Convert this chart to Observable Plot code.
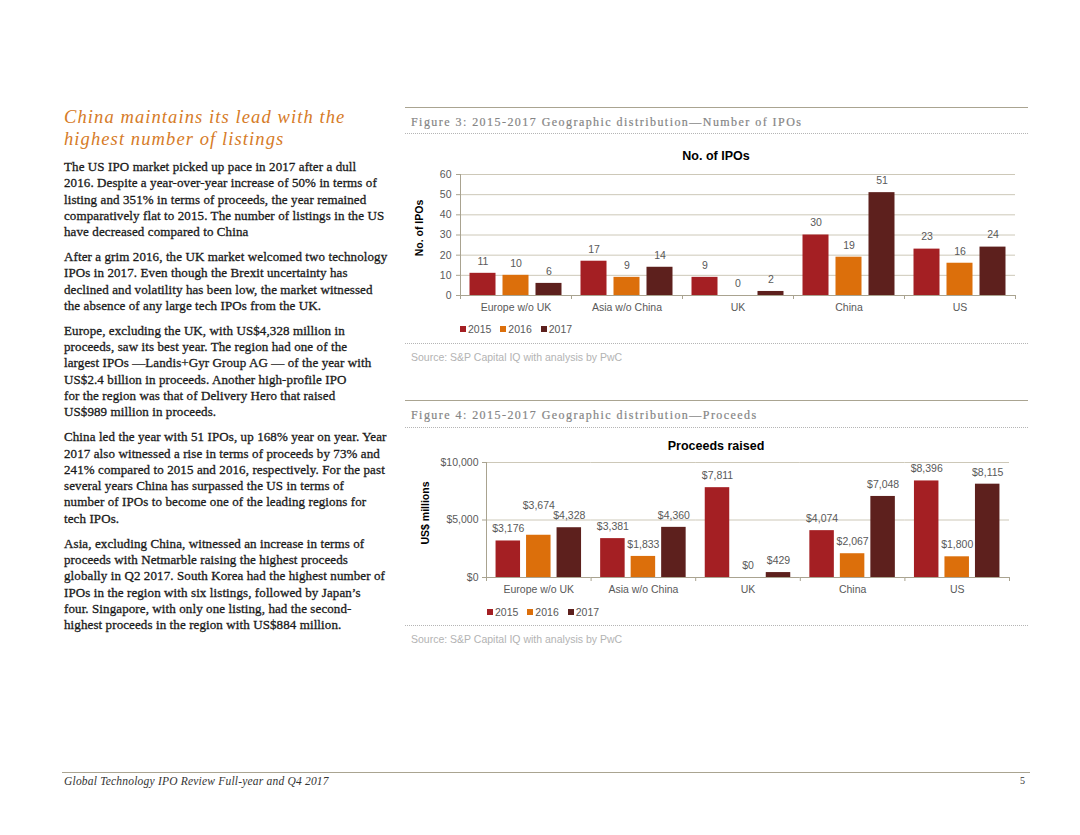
<!DOCTYPE html>
<html><head><meta charset="utf-8">
<script src="https://cdn.jsdelivr.net/npm/d3@7"></script>
<script src="https://cdn.jsdelivr.net/npm/@observablehq/plot@0.6"></script>
<style>
html,body{margin:0;padding:0;background:#fff;}
#page{position:relative;width:1080px;height:835px;overflow:hidden;background:#fff;}
.abs{position:absolute;}
.heading{left:64px;top:106px;font-family:"Liberation Serif",serif;font-style:italic;font-size:18.5px;line-height:22px;letter-spacing:1.1px;color:#d67b27;white-space:nowrap;}
.body{left:64px;top:159px;width:340px;font-family:"Liberation Serif",serif;font-size:13px;line-height:16.3px;letter-spacing:0.1px;color:#1a1a1a;-webkit-text-stroke:0.3px #1a1a1a;white-space:nowrap;}
.body p{margin:0 0 8.6px 0;}
.hr{left:405px;width:623px;height:0;border-top:1.2px solid #aaa491;}
.dot{left:405px;width:623px;height:0;border-top:1px dotted #b5b5b5;}
.cap{left:411px;font-family:"Liberation Serif",serif;font-size:12px;line-height:14px;letter-spacing:1.45px;color:#858585;-webkit-text-stroke:0.2px #858585;white-space:nowrap;}
.src{left:411px;font-family:"Liberation Sans",Arial,sans-serif;font-size:10.5px;line-height:14px;color:#b3b3b3;white-space:nowrap;}
.ctitle{font-family:"Liberation Sans",Arial,sans-serif;font-weight:bold;font-size:12.5px;line-height:16px;color:#000;width:300px;text-align:center;left:566px;}
.ytitle{font-family:"Liberation Sans",Arial,sans-serif;font-weight:bold;font-size:10.5px;line-height:12px;color:#000;width:120px;text-align:center;transform:rotate(-90deg);white-space:nowrap;}
.legend{font-family:"Liberation Sans",Arial,sans-serif;font-size:10.5px;line-height:14px;color:#595959;display:flex;align-items:center;white-space:nowrap;}
.legend .sw{display:inline-block;width:6px;height:6px;margin-right:2px;}
.legend .it{display:inline-flex;align-items:center;margin-right:9px;}
.footline{left:62px;width:968px;height:0;border-top:1.2px solid #aaa491;top:772px;}
.footer{top:774px;font-family:"Liberation Serif",serif;font-style:italic;font-size:11.5px;letter-spacing:0.2px;line-height:14px;color:#333;white-space:nowrap;}
</style>
</head>
<body>
<div id="page">
  <div class="abs heading">China maintains its lead with the<br>highest number of listings</div>
  <div class="abs body">
    <p>The US IPO market picked up pace in 2017 after a dull<br>2016. Despite a year-over-year increase of 50% in terms of<br>listing and 351% in terms of proceeds, the year remained<br>comparatively flat to 2015. The number of listings in the US<br>have decreased compared to China</p>
    <p>After a grim 2016, the UK market welcomed two technology<br>IPOs in 2017. Even though the Brexit uncertainty has<br>declined and volatility has been low, the market witnessed<br>the absence of any large tech IPOs from the UK.</p>
    <p>Europe, excluding the UK, with US$4,328 million in<br>proceeds, saw its best year. The region had one of the<br>largest IPOs —Landis+Gyr Group AG — of the year with<br>US$2.4 billion in proceeds. Another high-profile IPO<br>for the region was that of Delivery Hero that raised<br>US$989 million in proceeds.</p>
    <p>China led the year with 51 IPOs, up 168% year on year. Year<br>2017 also witnessed a rise in terms of proceeds by 73% and<br>241% compared to 2015 and 2016, respectively. For the past<br>several years China has surpassed the US in terms of<br>number of IPOs to become one of the leading regions for<br>tech IPOs.</p>
    <p>Asia, excluding China, witnessed an increase in terms of<br>proceeds with Netmarble raising the highest proceeds<br>globally in Q2 2017. South Korea had the highest number of<br>IPOs in the region with six listings, followed by Japan’s<br>four. Singapore, with only one listing, had the second-<br>highest proceeds in the region with US$884 million.</p>
  </div>

  <div class="abs hr" style="top:107px"></div>
  <div class="abs cap" style="top:115px">Figure 3: 2015-2017 Geographic distribution—Number of IPOs</div>
  <div class="abs dot" style="top:133px"></div>
  <div class="abs ctitle" style="top:148px">No. of IPOs</div>
  <div class="abs ytitle" style="left:359px;top:222px">No. of IPOs</div>
  <div class="abs" id="chart1" style="left:405px;top:165px"></div>
  <div class="abs legend" id="legend1" style="left:460px;top:322px"></div>
  <div class="abs dot" style="top:343px"></div>
  <div class="abs src" style="top:350px">Source: S&amp;P Capital IQ with analysis by PwC</div>

  <div class="abs hr" style="top:400px"></div>
  <div class="abs cap" style="top:408px">Figure 4: 2015-2017 Geographic distribution—Proceeds</div>
  <div class="abs dot" style="top:427px"></div>
  <div class="abs ctitle" style="top:438px">Proceeds raised</div>
  <div class="abs ytitle" style="left:365px;top:507px">US$ millions</div>
  <div class="abs" id="chart2" style="left:405px;top:455px"></div>
  <div class="abs legend" id="legend2" style="left:487px;top:605px"></div>
  <div class="abs dot" style="top:625px"></div>
  <div class="abs src" style="top:632px">Source: S&amp;P Capital IQ with analysis by PwC</div>

  <div class="abs footline"></div>
  <div class="abs footer" style="left:64px">Global Technology IPO Review Full-year and Q4 2017</div>
  <div class="abs footer" style="left:1020px;font-style:normal;font-size:10px">5</div>
</div>
<script>
const regions = ["Europe w/o UK", "Asia w/o China", "UK", "China", "US"];
const years = ["2015", "2016", "2017"];
const colors = ["#a41f23", "#dc6f0b", "#5d201d"];

const ipos2015 = [11, 17, 9, 30, 23];
const ipos2016 = [10, 9, 0, 19, 16];
const ipos2017 = [6, 14, 2, 51, 24];
const ipoTicks = [0, 10, 20, 30, 40, 50, 60];

const proceeds2015 = [3176, 3381, 7811, 4074, 8396];
const proceeds2016 = [3674, 1833, 0, 2067, 1800];
const proceeds2017 = [4328, 4360, 429, 7048, 8115];
const proceedsTicks = [0, 5000, 10000];

function buildRows(a, b, c) {
  const series = [a, b, c];
  const out = [];
  regions.forEach((r, i) => years.forEach((y, j) => out.push({region: r, year: y, value: series[j][i]})));
  return out;
}

function groupedChart(o) {
  const plotW = o.width - o.marginLeft - o.marginRight;
  const plotH = o.height - o.marginTop - o.marginBottom;
  const max = o.ticks[o.ticks.length - 1];
  const fw = plotW / regions.length;
  const step = fw / (years.length - o.pi + 2 * o.po);
  const edge = o.po * step + (1 - o.pi) * step / 2;
  const tickLen = 4 * max / plotH;
  const pxPerUnit = plotH / max;
  const charW = 5.84;
  // Stagger a middle label upward when it would collide with a neighbour.
  const labels = o.data.map(d => ({...d, text: o.labelFormat(d.value), raised: false}));
  regions.forEach(r => {
    const g = labels.filter(d => d.region === r);
    const mid = g[1];
    const collides = [g[0], g[2]].some(n =>
      (n.text.length + mid.text.length) * charW / 2 > step &&
      Math.abs(n.value - mid.value) * pxPerUnit < 12);
    if (collides) mid.raised = true;
  });
  const axisColor = "#a9a390";
  return Plot.plot({
    width: o.width, height: o.height,
    marginLeft: o.marginLeft, marginRight: o.marginRight,
    marginTop: o.marginTop, marginBottom: o.marginBottom,
    style: {fontFamily: "'Liberation Sans', Arial, sans-serif", fontSize: "10.5px", color: "#595959", background: "transparent", overflow: "visible"},
    fx: {domain: regions, padding: 0, round: false, label: null},
    x: {domain: years, paddingInner: o.pi, paddingOuter: o.po, round: false, axis: null},
    y: {domain: [0, max], axis: null},
    color: {domain: years, range: colors},
    marks: [
      Plot.ruleY(o.ticks.filter(t => t > 0), {stroke: "#cdc8b8", strokeWidth: 1}),
      Plot.barY(o.data, {fx: "region", x: "year", y: "value", fill: "year"}),
      Plot.ruleY([0], {stroke: axisColor}),
      Plot.ruleX([regions[0]], {fx: d => d, x: () => years[0], dx: -edge, y1: 0, y2: max, stroke: axisColor}),
      Plot.ruleX(regions, {fx: d => d, x: () => years[0], dx: -edge, y1: 0, y2: -tickLen, stroke: axisColor}),
      Plot.ruleX([regions[regions.length - 1]], {fx: d => d, x: () => years[years.length - 1], dx: edge, y1: 0, y2: -tickLen, stroke: axisColor}),
      Plot.axisY({ticks: o.ticks, tickSize: 4, tickPadding: o.tickPadding, tickFormat: o.tickFormat, stroke: axisColor, fill: "#595959", label: null}),
      Plot.axisFx({anchor: "bottom", tickSize: 0, tickPadding: 8, label: null, fill: "#595959"}),
      Plot.text(labels.filter(d => !d.raised), {fx: "region", x: "year", y: "value", text: "text", dy: -12, fill: "#595959"}),
      Plot.text(labels.filter(d => d.raised), {fx: "region", x: "year", y: "value", text: "text", dy: -30, fill: "#595959"})
    ]
  });
}

const money = v => "$" + d3.format(",")(v);

document.getElementById("chart1").appendChild(groupedChart({
  data: buildRows(ipos2015, ipos2016, ipos2017),
  ticks: ipoTicks, tickFormat: d => String(d), labelFormat: v => String(v),
  width: 625, height: 155, marginLeft: 55, marginRight: 15, marginTop: 9, marginBottom: 25,
  pi: 0.212, po: 0.288, tickPadding: 5
}));

document.getElementById("chart2").appendChild(groupedChart({
  data: buildRows(proceeds2015, proceeds2016, proceeds2017),
  ticks: proceedsTicks, tickFormat: money, labelFormat: money,
  width: 625, height: 147, marginLeft: 81, marginRight: 21, marginTop: 7, marginBottom: 25,
  pi: 0.197, po: 0.313, tickPadding: 4
}));

function legend(id) {
  const el = document.getElementById(id);
  years.forEach((y, i) => {
    const it = document.createElement("span");
    it.className = "it";
    const sw = document.createElement("span");
    sw.className = "sw";
    sw.style.background = colors[i];
    it.appendChild(sw);
    it.appendChild(document.createTextNode(y));
    el.appendChild(it);
  });
}
legend("legend1");
legend("legend2");
</script>
</body></html>
